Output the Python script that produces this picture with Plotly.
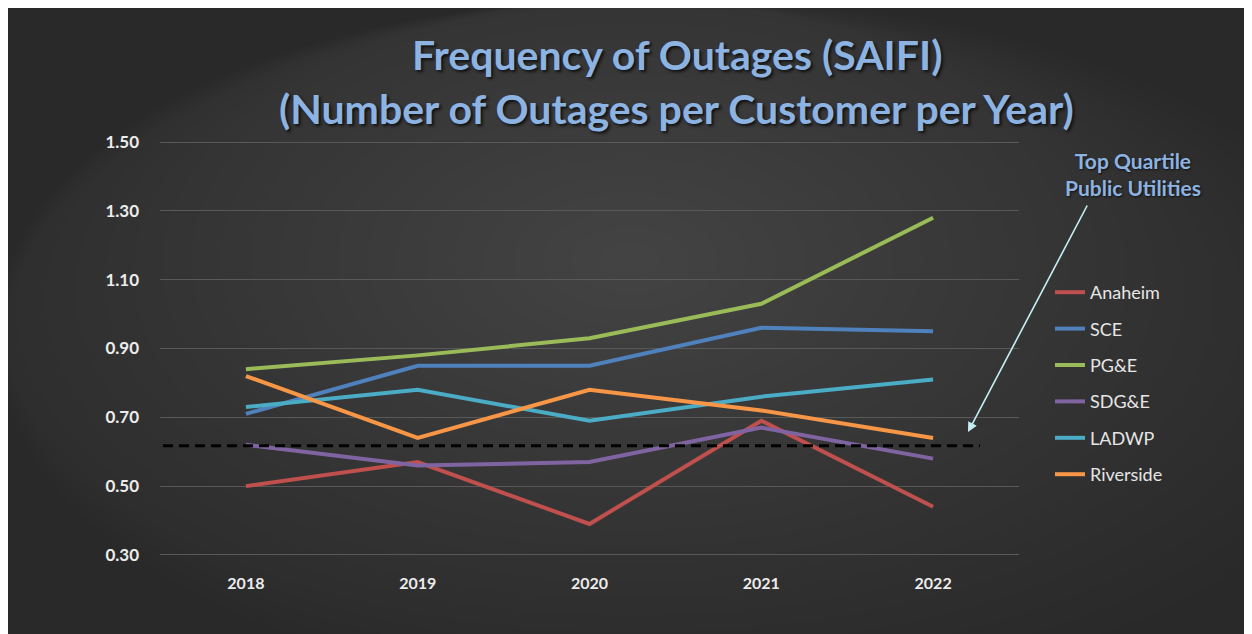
import plotly.graph_objects as go

years = ['2018', '2019', '2020', '2021', '2022']

anaheim = [0.50, 0.57, 0.39, 0.69, 0.44]
sce = [0.71, 0.85, 0.85, 0.96, 0.95]
pge = [0.84, 0.88, 0.93, 1.03, 1.28]
sdge = [0.62, 0.56, 0.57, 0.67, 0.58]
ladwp = [0.73, 0.78, 0.69, 0.76, 0.81]
riverside = [0.82, 0.64, 0.78, 0.72, 0.64]

top_quartile = 0.617
y_ticks = [0.30, 0.50, 0.70, 0.90, 1.10, 1.30, 1.50]

series = [
    ('Anaheim', anaheim, '#c0504d'),
    ('SCE', sce, '#4f81bd'),
    ('PG&E', pge, '#9bbb59'),
    ('SDG&E', sdge, '#8064a2'),
    ('LADWP', ladwp, '#4bacc6'),
    ('Riverside', riverside, '#f79646'),
]

# page geometry in screen pixels (page has an 8px body margin)
W, H = 1252, 634
OFF = 8
L, R, T, B = 160, 1019, 140, 557

def px_x(x):
    return (x - L) / (R - L)

def px_y(y):
    return (B - y) / (B - T)

fig = go.Figure()
for name, vals, col in series:
    fig.add_trace(go.Scatter(x=years, y=vals, name=name, mode='lines',
                             legendgroup=name,
                             line=dict(color=col, width=4)))

shapes = []
# soft radial glow
n = 26
for i in range(n):
    f = 1 - i / n
    rx = 760 * f
    ry = 440 * f
    cx, cy = 630, 260
    shapes.append(dict(type='circle', xref='paper', yref='paper', layer='below',
                       x0=px_x(max(cx - rx, 0)), x1=px_x(cx + rx),
                       y0=px_y(max(cy - ry, 0)), y1=px_y(cy + ry),
                       fillcolor='rgba(255,255,255,0.0075)', line=dict(width=0)))
# dashed threshold line
shapes.append(dict(type='line', xref='paper', yref='y',
                   x0=px_x(163), x1=px_x(980), y0=top_quartile, y1=top_quartile,
                   line=dict(color='black', width=3, dash='10px,6px')))

title_font = dict(family='Lato', size=41, color='#8db3e2', weight='bold',
                  shadow='2px 2px 3px #111')

fig.update_layout(
    width=W, height=H,
    margin=dict(l=L - OFF, r=W - (R - OFF), t=T - OFF, b=H - (B - OFF)),
    paper_bgcolor='#292929',
    plot_bgcolor='rgba(0,0,0,0)',
    shapes=shapes,
    showlegend=True,
    legend=dict(x=px_x(1050), xanchor='left', y=px_y(274), yanchor='top',
                bgcolor='rgba(0,0,0,0)', tracegroupgap=10,
                font=dict(family='Lato', size=18, color='#e6e6e6')),
    xaxis=dict(type='category', range=[-0.5, 4.5],
               showgrid=False, zeroline=False, showline=False, ticks='',
               ticklabelstandoff=15,
               tickfont=dict(family='Lato', size=16, color='#ececec', weight='bold')),
    yaxis=dict(range=[0.294, 1.506], tickvals=y_ticks, tickformat='.2f',
               showgrid=True, gridcolor='#595959', gridwidth=1,
               zeroline=False, showline=False, ticks='', ticklabelstandoff=20,
               tickfont=dict(family='Lato', size=17, color='#ececec', weight='bold')),
    annotations=[
        dict(text='Frequency of Outages (SAIFI)', xref='paper', yref='paper',
             x=px_x(677), y=px_y(55), xanchor='center', yanchor='middle',
             showarrow=False, font=title_font),
        dict(text='(Number of Outages per Customer per Year)', xref='paper', yref='paper',
             x=px_x(676), y=px_y(108), xanchor='center', yanchor='middle',
             showarrow=False, font=title_font),
        dict(text='Top Quartile<br>Public Utilities', xref='paper', yref='paper',
             x=px_x(1133), y=px_y(174), xanchor='center', yanchor='middle',
             showarrow=False, align='center',
             font=dict(family='Lato', size=21, color='#8db3e2', weight='bold',
                       shadow='1px 1px 2px #111')),
        dict(text='', xref='paper', yref='paper', x=px_x(968), y=px_y(432),
             ax=120, ay=-228, showarrow=True, arrowhead=2, arrowsize=1.2,
             arrowwidth=1.6, arrowcolor='#c4eef4'),
    ],
)

fig.write_html('out.html')
